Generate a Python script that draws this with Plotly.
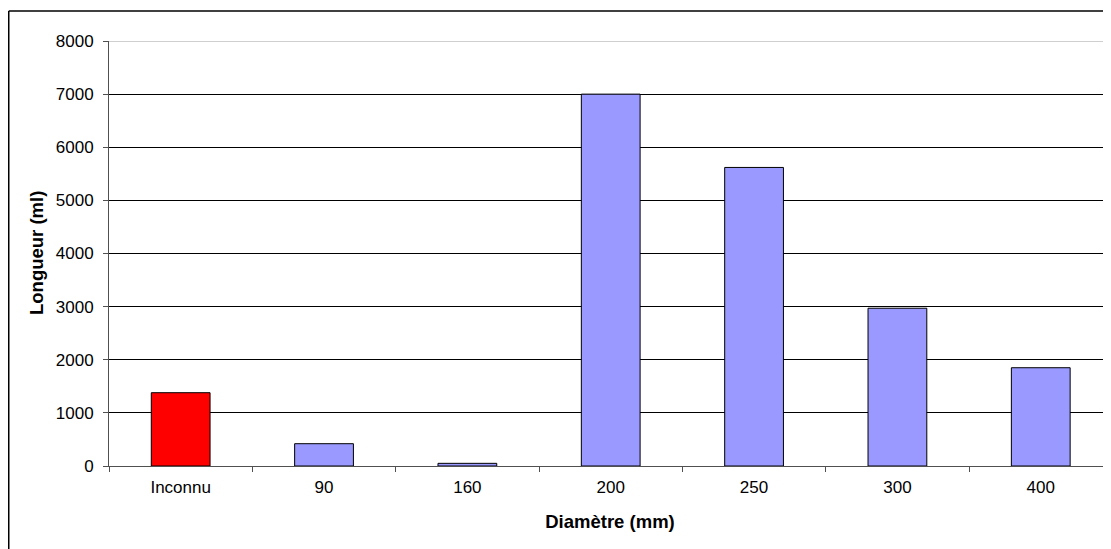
import plotly.graph_objects as go

categories = ["Inconnu", "90", "160", "200", "250", "300", "400"]
lengths = [1380, 420, 50, 7000, 5620, 2970, 1850]
bar_colors = ["#FF0000", "#9999FF", "#9999FF", "#9999FF", "#9999FF", "#9999FF", "#9999FF"]
y_ticks = [0, 1000, 2000, 3000, 4000, 5000, 6000, 7000, 8000]
y_max = 8000

# page has an 8px body margin; figure coordinates are offset by it
W, H = 1103, 541
L, T, B = 101, 33, 83
pw = W - L
ph = H - T - B

fig = go.Figure()
fig.add_trace(go.Bar(
    x=categories, y=lengths,
    marker=dict(color=bar_colors, line=dict(color="#000000", width=1)),
    width=0.41,
))

font = dict(family="Liberation Sans, Arial, sans-serif", size=17, color="#000000")

fig.update_layout(
    width=W, height=H,
    margin=dict(l=L, r=0, t=T, b=B, pad=0),
    paper_bgcolor="#FFFFFF", plot_bgcolor="#FFFFFF",
    font=font,
    showlegend=False,
    xaxis=dict(
        type="category",
        range=[-0.5, 6.49],
        showgrid=False,
        showline=True, linecolor="#505050", linewidth=1,
        ticks="outside", tickson="boundaries", ticklen=5, tickcolor="#505050",
        tickfont=dict(size=17),
        ticklabelstandoff=6,
        title=dict(text="<b>Diamètre (mm)</b>", font=dict(size=18.5), standoff=18),
        zeroline=False,
    ),
    yaxis=dict(
        range=[0, y_max],
        tickvals=y_ticks,
        showgrid=True, gridcolor="#000000", gridwidth=1,
        showline=True, linecolor="#505050", linewidth=1,
        ticks="outside", ticklen=5, tickcolor="#505050",
        tickfont=dict(size=17),
        ticklabelstandoff=6,
        zeroline=False,
    ),
)

# y-axis title
fig.add_annotation(
    text="<b>Longueur (ml)</b>", textangle=-90,
    xref="paper", yref="paper",
    x=(28.5 - L) / pw, y=0.5,
    xanchor="center", yanchor="middle",
    showarrow=False, font=dict(size=18.5),
)

# top of plot area drawn in lighter grey
fig.add_shape(type="line", xref="paper", yref="y", x0=0, x1=1, y0=y_max, y1=y_max,
              line=dict(color="#A0A0A0", width=1))

# outer chart frame (left and top edges visible; right/bottom cropped)
fx0 = (0.75 - L) / pw
fy1 = 1 + (T - 3) / ph
fig.add_shape(type="line", xref="paper", yref="paper", x0=fx0, x1=fx0, y0=-1, y1=fy1,
              line=dict(color="#000000", width=1.5))
fig.add_shape(type="line", xref="paper", yref="paper", x0=fx0, x1=1.2, y0=fy1, y1=fy1,
              line=dict(color="#000000", width=1.5))

fig.write_html("out.html")
